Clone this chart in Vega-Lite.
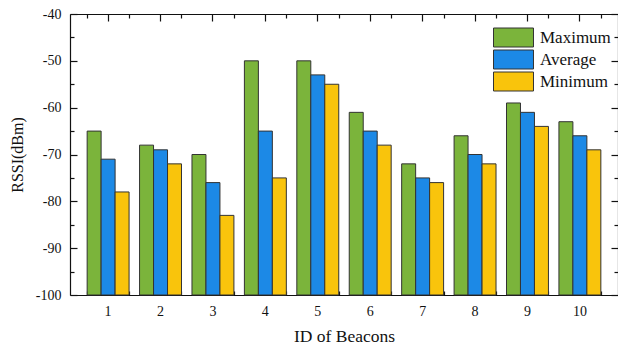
{
  "$schema": "https://vega.github.io/schema/vega-lite/v6.json",
  "width": 548,
  "height": 281,
  "autosize": "none",
  "padding": {"left": 70, "top": 14, "right": 0, "bottom": 55},
  "background": "white",
  "config": {
    "view": {"stroke": null},
    "font": "Liberation Serif",
    "axis": {
      "labelFont": "Liberation Serif",
      "titleFont": "Liberation Serif",
      "labelColor": "#111",
      "titleColor": "#111",
      "titleFontWeight": "normal",
      "domainColor": "#111",
      "tickColor": "#111",
      "domainWidth": 1.2,
      "tickWidth": 1.2,
      "grid": false,
      "zindex": 1
    }
  },
  "data": {
    "values": [
      {"id": 1, "stat": "Maximum", "rssi": -65}, {"id": 1, "stat": "Average", "rssi": -71}, {"id": 1, "stat": "Minimum", "rssi": -78},
      {"id": 2, "stat": "Maximum", "rssi": -68}, {"id": 2, "stat": "Average", "rssi": -69}, {"id": 2, "stat": "Minimum", "rssi": -72},
      {"id": 3, "stat": "Maximum", "rssi": -70}, {"id": 3, "stat": "Average", "rssi": -76}, {"id": 3, "stat": "Minimum", "rssi": -83},
      {"id": 4, "stat": "Maximum", "rssi": -50}, {"id": 4, "stat": "Average", "rssi": -65}, {"id": 4, "stat": "Minimum", "rssi": -75},
      {"id": 5, "stat": "Maximum", "rssi": -50}, {"id": 5, "stat": "Average", "rssi": -53}, {"id": 5, "stat": "Minimum", "rssi": -55},
      {"id": 6, "stat": "Maximum", "rssi": -61}, {"id": 6, "stat": "Average", "rssi": -65}, {"id": 6, "stat": "Minimum", "rssi": -68},
      {"id": 7, "stat": "Maximum", "rssi": -72}, {"id": 7, "stat": "Average", "rssi": -75}, {"id": 7, "stat": "Minimum", "rssi": -76},
      {"id": 8, "stat": "Maximum", "rssi": -66}, {"id": 8, "stat": "Average", "rssi": -70}, {"id": 8, "stat": "Minimum", "rssi": -72},
      {"id": 9, "stat": "Maximum", "rssi": -59}, {"id": 9, "stat": "Average", "rssi": -61}, {"id": 9, "stat": "Minimum", "rssi": -64},
      {"id": 10, "stat": "Maximum", "rssi": -63}, {"id": 10, "stat": "Average", "rssi": -66}, {"id": 10, "stat": "Minimum", "rssi": -69}
    ]
  },
  "encoding": {
    "x": {
      "field": "id",
      "type": "ordinal",
      "scale": {"paddingInner": 0.2, "paddingOuter": 0.327}
    },
    "y": {
      "field": "rssi",
      "type": "quantitative",
      "scale": {"domain": [-100, -40], "nice": false, "zero": false}
    }
  },
  "layer": [
    {
      "mark": {"type": "bar", "stroke": "#333", "strokeWidth": 1},
      "encoding": {
        "x": {
          "field": "id",
          "type": "ordinal",
          "axis": {
            "orient": "bottom",
            "title": "ID of Beacons",
            "titleFontSize": 17.5,
            "titlePadding": 9,
            "labelAngle": 0,
            "labelFontSize": 14,
            "labelPadding": 16,
            "tickSize": -7
          }
        },
        "xOffset": {
          "field": "stat",
          "type": "nominal",
          "sort": ["Maximum", "Average", "Minimum"]
        },
        "y": {
          "field": "rssi",
          "type": "quantitative",
          "axis": {
            "orient": "left",
            "title": "RSSI(dBm)",
            "titleFontSize": 16,
            "titlePadding": 10,
            "values": [-100, -90, -80, -70, -60, -50, -40],
            "labelExpr": "toString(datum.value)",
            "labelFontSize": 14,
            "labelPadding": 16,
            "tickSize": -7
          }
        },
        "y2": {"datum": -100},
        "color": {
          "field": "stat",
          "type": "nominal",
          "sort": ["Maximum", "Average", "Minimum"],
          "scale": {
            "domain": ["Maximum", "Average", "Minimum"],
            "range": ["#7bb43b", "#1c89e6", "#f9c40c"]
          },
          "legend": {
            "title": null,
            "orient": "none",
            "legendX": 433.5,
            "legendY": 13.5,
            "padding": 0,
            "symbolType": "M-2.105,-1H2.105V1H-2.105Z",
            "symbolSize": 361,
            "symbolStrokeColor": "#333",
            "symbolStrokeWidth": 1,
            "symbolOpacity": 1,
            "labelFont": "Liberation Serif",
            "labelFontSize": 17,
            "labelColor": "#111",
            "labelOffset": 16.5,
            "rowPadding": -2
          }
        }
      }
    },
    {
      "mark": {"type": "point", "opacity": 0},
      "encoding": {
        "x": {
          "field": "id",
          "type": "ordinal",
          "axis": {"orient": "top", "title": null, "labels": false, "tickSize": -7}
        },
        "y": {
          "field": "rssi",
          "type": "quantitative",
          "axis": {
            "orient": "right",
            "title": null,
            "labels": false,
            "values": [-100, -90, -80, -70, -60, -50, -40],
            "tickSize": -7
          }
        }
      }
    },
    {
      "mark": {"type": "point", "opacity": 0},
      "encoding": {
        "x": {
          "field": "id",
          "type": "ordinal",
          "axis": {"orient": "bottom", "title": null, "labels": false, "domain": false, "tickBand": "extent", "tickSize": -4}
        },
        "y": {
          "field": "rssi",
          "type": "quantitative",
          "axis": {
            "orient": "left",
            "title": null,
            "labels": false,
            "domain": false,
            "values": [-95, -85, -75, -65, -55, -45],
            "tickSize": -4
          }
        }
      }
    },
    {
      "mark": {"type": "point", "opacity": 0},
      "encoding": {
        "x": {
          "field": "id",
          "type": "ordinal",
          "axis": {"orient": "top", "title": null, "labels": false, "domain": false, "tickBand": "extent", "tickSize": -4}
        },
        "y": {
          "field": "rssi",
          "type": "quantitative",
          "axis": {
            "orient": "right",
            "title": null,
            "labels": false,
            "domain": false,
            "values": [-95, -85, -75, -65, -55, -45],
            "tickSize": -4
          }
        }
      }
    }
  ],
  "resolve": {"axis": {"x": "independent", "y": "independent"}}
}
